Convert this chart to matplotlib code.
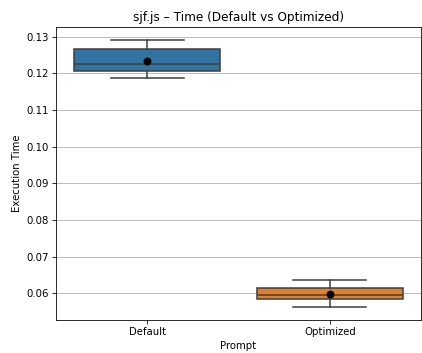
import matplotlib
matplotlib.use("Agg")
import matplotlib.pyplot as plt

categories = ["Default", "Optimized"]
q1 = [0.1207, 0.0584]
median = [0.1225, 0.0596]
q3 = [0.1267, 0.0614]
whislo = [0.1187, 0.0564]
whishi = [0.1290, 0.0637]
means = [0.1233, 0.0599]
colors = ["#3274a1", "#e1812c"]

s = 0.73
fig = plt.figure(figsize=(4.22, 3.53), dpi=100)
ax = fig.add_axes([0.132, 0.0935, 0.866, 0.8292])

stats = []
for i, c in enumerate(categories):
    stats.append(dict(label=c, q1=q1[i], med=median[i], q3=q3[i],
                      whislo=whislo[i], whishi=whishi[i], mean=means[i], fliers=[]))

lw = 1.1
bp = ax.bxp(stats, positions=range(len(categories)), widths=0.8, patch_artist=True,
            showmeans=False, showfliers=False,
            boxprops=dict(edgecolor="#3f3f3f", linewidth=lw),
            medianprops=dict(color="#3f3f3f", linewidth=lw),
            whiskerprops=dict(color="#3f3f3f", linewidth=lw),
            capprops=dict(color="#3f3f3f", linewidth=lw))
for patch, col in zip(bp["boxes"], colors):
    patch.set_facecolor(col)
for cap in bp["caps"]:
    x = cap.get_xdata()
    c = (x[0] + x[1]) / 2
    cap.set_xdata([c - 0.2, c + 0.2])

ax.scatter(range(len(categories)), means, color="black", s=33, zorder=5, linewidths=0)

ax.set_xlim(-0.5, 1.5)
ax.set_ylim(0.05272, 0.13256)
ax.set_xticks(range(len(categories)))
ax.set_xticklabels(categories)
ax.set_yticks([0.06, 0.07, 0.08, 0.09, 0.10, 0.11, 0.12, 0.13])
ax.set_yticklabels(["0.06", "0.07", "0.08", "0.09", "0.10", "0.11", "0.12", "0.13"])
ax.yaxis.grid(True, color="#b0b0b0", linewidth=0.8 * s)
ax.set_axisbelow(True)
for sp in ax.spines.values():
    sp.set_linewidth(0.8 * s)
ax.tick_params(labelsize=10 * s, length=3.5 * s, width=0.8 * s, pad=3.5 * s)
ax.set_xlabel("Prompt", fontsize=10 * s, labelpad=4 * s)
ax.set_ylabel("Execution Time", fontsize=10 * s, labelpad=4 * s)
ax.set_title("sjf.js – Time (Default vs Optimized)", fontsize=12 * s, pad=6 * s)

fig.savefig("out.png", dpi=100)
